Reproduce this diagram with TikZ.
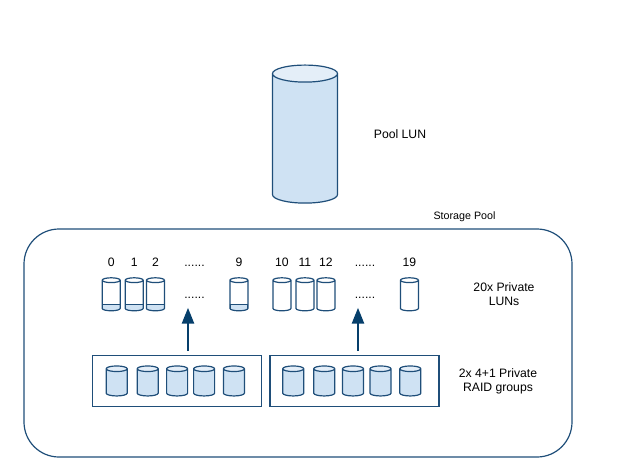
\documentclass[tikz,border=0pt]{standalone}
\usepackage{fontspec}
\setmainfont{Liberation Sans}
\usetikzlibrary{positioning, shapes.geometric, arrows.meta}
\definecolor{lineblue}{HTML}{1F4E79}
\definecolor{arrowblue}{HTML}{063F6B}
\definecolor{bodyblue}{HTML}{CFE2F3}
\definecolor{capblue}{HTML}{E4EEF8}

\begin{document}
\begin{tikzpicture}[
    x=1pt,
    y=-1pt,
    node distance=5pt,
    barrel/.style={
        shape=cylinder,
        shape border rotate=90,
        draw=lineblue,
        line width=1.2pt,
        outer sep=0pt,
        shape aspect=1,
        cylinder uses custom fill,
        cylinder body fill=bodyblue,
        cylinder end fill=capblue
    },
    poollun/.style={
        barrel,
        inner sep=8.5pt,
        minimum width=65pt,
        minimum height=138pt
    },
    raiddisk/.style={
        barrel,
        inner sep=2.8pt,
        minimum width=21pt,
        minimum height=30pt
    },
    lun/.style={
        barrel,
        inner sep=2.4pt,
        cylinder body fill=white,
        cylinder end fill=white,
        minimum width=18pt,
        minimum height=33pt
    },
    usedlun/.style={
        lun,
        path picture={
            \fill[bodyblue, draw=lineblue, line width=1.2pt]
                ([yshift=-1pt]path picture bounding box.south west)
                rectangle ([yshift=6.4pt]path picture bounding box.south east);
        }
    },
    raidbox/.style={
        draw=lineblue,
        line width=1.2pt,
        minimum width=169pt,
        minimum height=51pt,
        inner sep=0pt
    },
    tag/.style={
        font=\fontsize{12.2}{14}\selectfont,
        align=center,
        inner sep=0pt
    },
    dots/.style={
        tag,
        anchor=base,
        text depth=9pt
    },
    arrow/.style={
        arrowblue,
        line width=2.6pt,
        -{Triangle[width=12pt,length=16pt]}
    }
]
\useasboundingbox (0,0) rectangle (634,475);

% Top level LUN
\node[poollun] (pool) at (305,141.5) {};
\node[tag] (poolname) at (400,134) {Pool LUN};

% Storage pool outline
\node[draw=lineblue, line width=1.2pt, rounded corners=35pt, minimum width=548pt, minimum height=228pt] (storage) at (298,343) {};
\node[tag, font=\fontsize{10.7}{13}\selectfont] (storagename) at (464.5,217) {Storage Pool};

% Private LUNs, first half
\node[usedlun] (lun0) at (111.2,296.6) {};
\node[usedlun, right=5pt of lun0] (lun1) {};
\node[usedlun, right=3.2pt of lun1] (lun2) {};
\node[usedlun, right=65.5pt of lun2] (lun9) {};
\node[tag, above=10.9pt of lun0] (num0) {0};
\node[tag, above=10.9pt of lun1] (num1) {1};
\node[tag, above=10.9pt of lun2] (num2) {2};
\node[tag, above=10.9pt of lun9] (num9) {9};
\node[dots] (dotsA) at (194.5,266.5) {......};
\node[dots] (dotsB) at (194.5,298.5) {......};

% Private LUNs, second half
\node[lun, right=25pt of lun9] (lun10) {};
\node[lun, right=5pt of lun10] (lun11) {};
\node[lun, right=3pt of lun11] (lun12) {};
\node[lun, right=65.5pt of lun12] (lun19) {};
\node[tag, above=10.9pt of lun10] (num10) {10};
\node[tag, above=10.9pt of lun11] (num11) {11};
\node[tag, above=10.9pt of lun12] (num12) {12};
\node[tag, above=10.9pt of lun19] (num19) {19};
\node[dots] (dotsC) at (365,266.5) {......};
\node[dots] (dotsD) at (365,298.5) {......};

\node[tag] (lunname) at (504,294) {20x Private\\LUNs};

% RAID groups
\node[raidbox] (groupA) at (177.3,381.2) {};
\node[raidbox, right=7pt of groupA] (groupB) {};
\node[tag] (groupname) at (498,381) {2x 4+1 Private\\RAID groups};

\node[raiddisk] (diskA0) at (116.7,383.6) {};
\node[raiddisk, right=10pt of diskA0] (diskA1) {};
\node[raiddisk, right=8.4pt of diskA1] (diskA2) {};
\node[raiddisk, right=6pt of diskA2] (diskA3) {};
\node[raiddisk, right=8.8pt of diskA3] (diskA4) {};

\node[raiddisk] (diskB0) at (293.2,383.6) {};
\node[raiddisk, right=10pt of diskB0] (diskB1) {};
\node[raiddisk, right=7.8pt of diskB1] (diskB2) {};
\node[raiddisk, right=6.5pt of diskB2] (diskB3) {};
\node[raiddisk, right=8.8pt of diskB3] (diskB4) {};

% Arrows up to the LUNs
\coordinate (tailA) at (188,351);
\coordinate (tailB) at (358,351);
\draw[arrow] (tailA) -- (tailA |- dotsB.south);
\draw[arrow] (tailB) -- (tailB |- dotsD.south);

\end{tikzpicture}
\end{document}
